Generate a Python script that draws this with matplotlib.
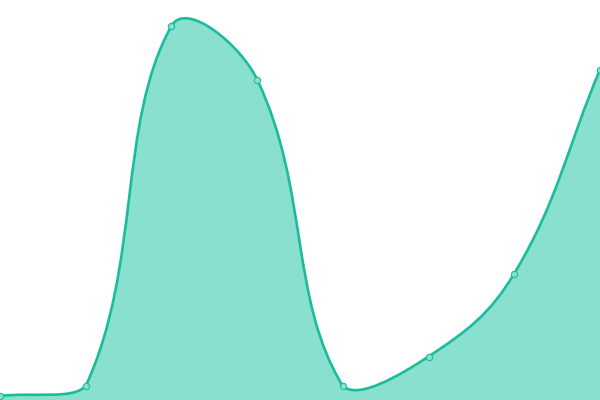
import numpy as np
import matplotlib
matplotlib.use("Agg")
import matplotlib.pyplot as plt
from matplotlib.path import Path
from matplotlib.patches import PathPatch

# values (canvas 600x400, y axis 0..400)
labels = ["1", "2", "3", "4", "5", "6", "7", "8"]
values = [4, 14, 374, 320.5, 14, 43.5, 126.5, 330.5]

line_color = "#1abc9c"
fill_color = "#8ae0cf"
W, H = 600, 400
tension = 0.4

n = len(values)
xs = np.arange(n)
xmax = n - 1

# pixel coords for the spline (same math chart.js uses)
px = xs * W / xmax
py = np.array(values, dtype=float)


def spline_ctrl(prev, cur, nxt, t):
    d01 = np.hypot(cur[0] - prev[0], cur[1] - prev[1])
    d12 = np.hypot(nxt[0] - cur[0], nxt[1] - cur[1])
    tot = d01 + d12
    s01 = d01 / tot if tot else 0
    s12 = d12 / tot if tot else 0
    fa = t * s01
    fb = t * s12
    c_prev = (cur[0] - fa * (nxt[0] - prev[0]), cur[1] - fa * (nxt[1] - prev[1]))
    c_next = (cur[0] + fb * (nxt[0] - prev[0]), cur[1] + fb * (nxt[1] - prev[1]))
    return c_prev, c_next


pts = list(zip(px, py))
ctrls = []
for i in range(n):
    prev = pts[max(i - 1, 0)]
    nxt = pts[min(i + 1, n - 1)]
    cp, cn = spline_ctrl(prev, pts[i], nxt, tension)
    cp = (min(max(cp[0], 0), W), min(max(cp[1], 0), H))
    cn = (min(max(cn[0], 0), W), min(max(cn[1], 0), H))
    ctrls.append((cp, cn))


def to_data(p):
    return (p[0] * xmax / W, p[1])


verts = [to_data(pts[0])]
codes = [Path.MOVETO]
for i in range(n - 1):
    verts += [to_data(ctrls[i][1]), to_data(ctrls[i + 1][0]), to_data(pts[i + 1])]
    codes += [Path.CURVE4] * 3

line_path = Path(verts, codes)
fill_path = Path(verts + [(xmax, 0), (0, 0), verts[0]],
                 codes + [Path.LINETO, Path.LINETO, Path.CLOSEPOLY])

fig = plt.figure(figsize=(6, 4), dpi=100)
ax = fig.add_axes([0, 0, 1, 1])
ax.add_patch(PathPatch(fill_path, facecolor=fill_color, edgecolor="none"))
ax.add_patch(PathPatch(line_path, facecolor="none", edgecolor=line_color, linewidth=1.9))
ax.plot(xs, values, "o", markersize=4.5, markerfacecolor=fill_color,
        markeredgecolor=line_color, markeredgewidth=0.8)
ax.set_xlim(0, xmax)
ax.set_ylim(0, H)
ax.axis("off")
fig.savefig("out.png", dpi=100)
